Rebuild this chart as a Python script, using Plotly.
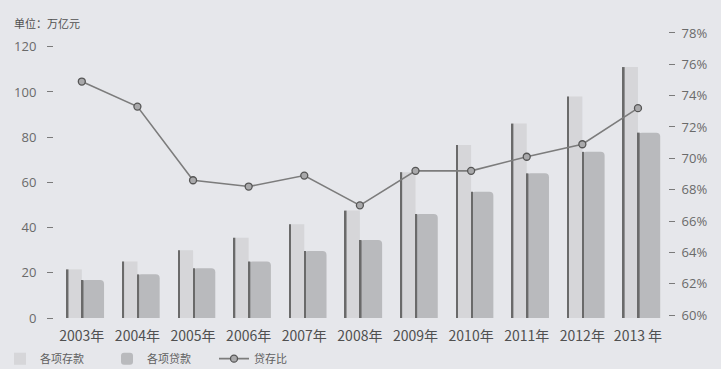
import plotly.graph_objects as go

years = ["2003年", "2004年", "2005年", "2006年", "2007年", "2008年",
         "2009年", "2010年", "2011年", "2012年", "2013 年"]
deposits = [21.5, 25.0, 30.0, 35.5, 41.5, 47.5, 64.5, 76.5, 86.0, 98.0, 111.0]
loans = [16.8, 19.3, 22.0, 25.0, 29.6, 34.5, 46.0, 55.8, 64.0, 73.5, 82.0]
ratio = [74.9, 73.3, 68.6, 68.2, 68.9, 67.0, 69.2, 69.2, 70.1, 70.9, 73.2]
left_ticks = [0, 20, 40, 60, 80, 100, 120]
right_ticks = [60, 62, 64, 66, 68, 70, 72, 74, 76, 78]
right_labels = [f"{v}%" for v in right_ticks]

FONT = "Open Sans, Noto Sans CJK SC, sans-serif"
CJK = "Noto Sans CJK SC, sans-serif"
BG = "#e6e7eb"

fig = go.Figure()

fig.add_trace(go.Bar(x=years, y=deposits, name="各项存款", offset=-0.27, width=0.27,
                     marker=dict(color="rgba(200,200,203,0.55)", line=dict(width=0)),
                     legendrank=1))
fig.add_trace(go.Bar(x=years, y=loans, name="各项贷款", offset=0.0, width=0.40,
                     marker=dict(color="#b9babd", line=dict(width=0), cornerradius=4),
                     legendrank=2))
fig.add_trace(go.Bar(x=years, y=deposits, offset=-0.27, width=0.03,
                     marker=dict(color="#6a6a6a", line=dict(width=0)), showlegend=False))
fig.add_trace(go.Bar(x=years, y=loans, offset=0.0, width=0.03,
                     marker=dict(color="#6a6a6a", line=dict(width=0)), showlegend=False))
fig.add_trace(go.Scatter(x=years, y=ratio, name="贷存比", yaxis="y2", mode="lines+markers",
                         line=dict(color="#7c7c7c", width=1.6),
                         marker=dict(symbol="circle", size=7, color="#a9a9ab",
                                     line=dict(color="#555555", width=1.3)),
                         legendrank=3))

fig.update_layout(
    width=721, height=369,
    margin=dict(l=54, r=53, t=30, b=51, autoexpand=False),
    paper_bgcolor=BG, plot_bgcolor=BG,
    barmode="overlay",
    font=dict(family=FONT, color="#5a5a5a", size=12),
    xaxis=dict(type="category", range=[-0.5, 10.54], showgrid=False, zeroline=False,
               showline=False, ticks="", ticklabelstandoff=8,
               tickfont=dict(family=CJK, size=14, color="#505050")),
    yaxis=dict(range=[0, 127.4], tickvals=left_ticks, showgrid=False,
               zeroline=False, showline=False, ticks="outside", ticklen=6, tickwidth=1.3,
               tickcolor="#7a7a7a", ticklabelstandoff=8,
               tickfont=dict(size=13, color="#6a6a6a")),
    yaxis2=dict(overlaying="y", side="right", range=[59.81, 78.19],
                tickvals=right_ticks, ticktext=right_labels,
                showgrid=False, zeroline=False, showline=False, ticks="outside", ticklen=6,
                tickwidth=1.3, tickcolor="#7a7a7a", ticklabelstandoff=4,
                tickfont=dict(size=13, color="#6a6a6a")),
    legend=dict(orientation="h", xref="container", x=0.0, xanchor="left",
                yref="container", y=0.028, yanchor="middle",
                font=dict(family=CJK, size=11, color="#606060"), bgcolor="rgba(0,0,0,0)",
                traceorder="normal", entrywidth=62, itemwidth=30),
    showlegend=True,
)

fig.add_annotation(text="单位：万亿元", xref="paper", yref="paper", x=-0.068, y=1.025,
                   xanchor="left", yanchor="middle", showarrow=False,
                   font=dict(family=CJK, size=11, color="#505050"))

fig.write_html("out.html")
